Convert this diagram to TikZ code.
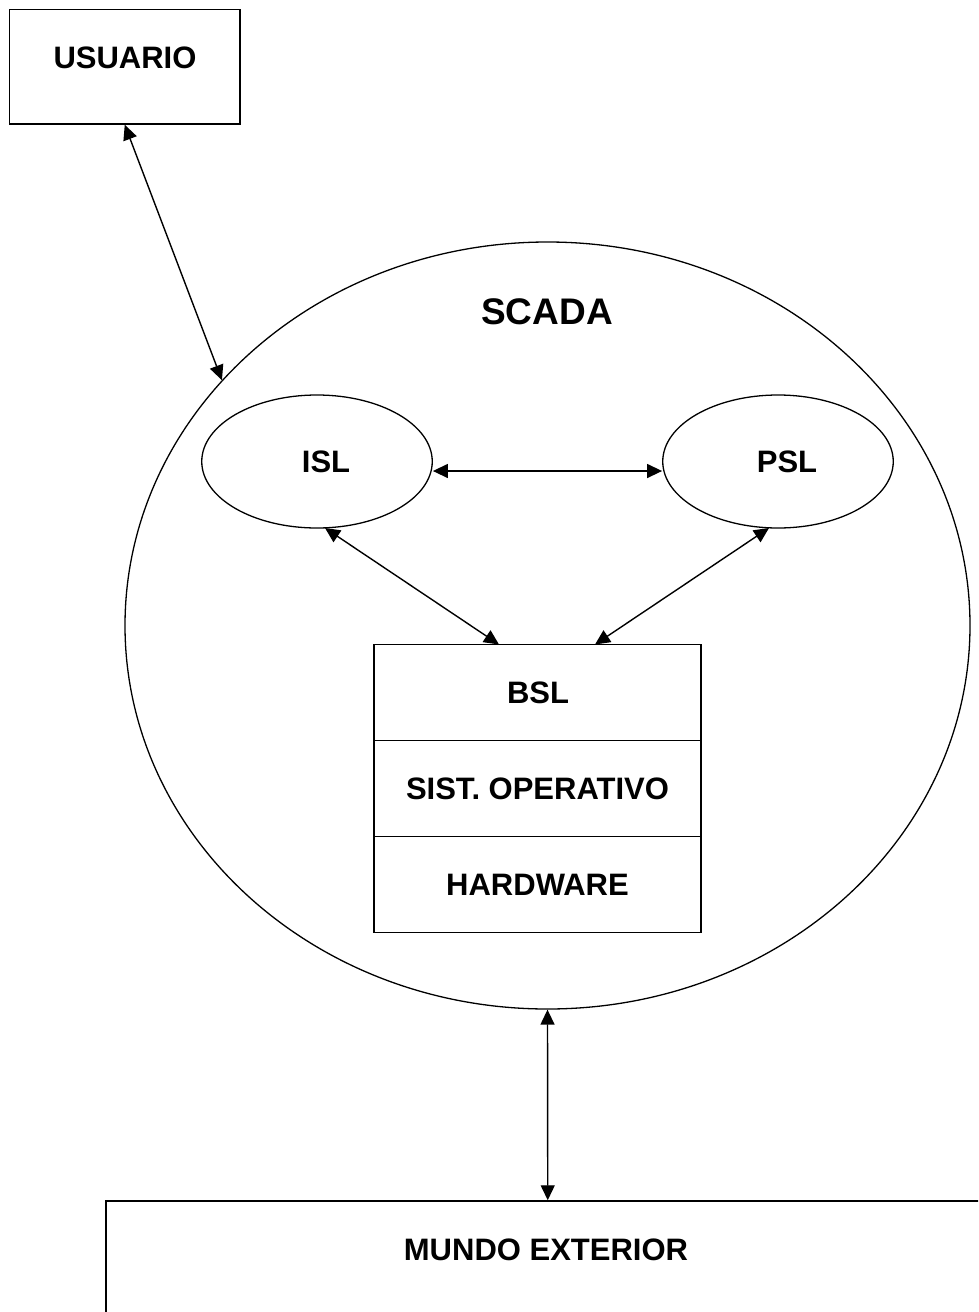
\documentclass[tikz,border=0pt]{standalone}
\usepackage{fontspec}
\setmainfont{Liberation Sans}
\usetikzlibrary{arrows.meta,shapes.geometric,calc}

\tikzset{
  box/.style={draw, line width=1.5pt, rectangle, inner sep=0pt},
  oval/.style={draw, line width=1.3pt, ellipse, inner sep=0pt},
  lbl/.style={font=\fontsize{31}{31}\selectfont\bfseries, inner sep=0pt},
  link/.style={line width=1.4pt, {Triangle[length=15pt,width=14pt]}-{Triangle[length=15pt,width=14pt]}}
}

\begin{document}
\begin{tikzpicture}[x=1pt,y=-1pt]
  \useasboundingbox (0,0) rectangle (978,1312);
  \clip (0,0) rectangle (978,1312);
  \fill[white] (0,0) rectangle (978,1312);

  % user box
  \node[box, minimum width=230.5pt, minimum height=114.5pt] (usuario) at (124.75,66.75) {};
  \node[lbl] (usuariotxt) at (125,57.5) {USUARIO};

  % SCADA system
  \node[oval, minimum width=845pt, minimum height=767pt] (scada) at (547.5,625.5) {};
  \node[lbl, font=\fontsize{37}{37}\selectfont\bfseries] (scadatxt) at (547,312) {SCADA};

  % interface and process layers
  \node[oval, minimum width=230.5pt, minimum height=133pt] (isl) at (317,461.5) {};
  \node[lbl] (isltxt) at (326,462) {ISL};
  \node[oval, minimum width=230.5pt, minimum height=133pt] (psl) at (778,461.5) {};
  \node[lbl] (psltxt) at (787,462) {PSL};

  % base layer stack
  \node[box, minimum width=327pt, minimum height=96pt] (bsl) at (537.5,692.5) {};
  \node[box, minimum width=327pt, minimum height=96pt] (so) at (537.5,788.5) {};
  \node[box, minimum width=327pt, minimum height=96pt] (hw) at (537.5,884.5) {};
  \node[lbl] (bsltxt) at (538,693) {BSL};
  \node[lbl] (sotxt) at (537.5,789) {SIST. OPERATIVO};
  \node[lbl] (hwtxt) at (537.5,885) {HARDWARE};

  % outside world
  \node[box, minimum width=884pt, minimum height=140pt] (mundo) at (547.75,1271) {};
  \node[lbl] (mundotxt) at (546,1250) {MUNDO EXTERIOR};

  % connectors
  \draw[link] (usuario.south) -- (scada.143.2);
  \draw[link] ($(isl.east)+(0,9.5)$) -- ($(psl.west)+(0,9.5)$);
  \coordinate (bslL) at (499,644.5);
  \coordinate (bslR) at (595,644.5);
  \coordinate (islB) at (325,528);
  \coordinate (pslB) at (769,528);
  \draw[link] (islB) -- (bslL);
  \draw[link] (pslB) -- (bslR);
  \draw[link] (scada.south) -- (mundo.north);
\end{tikzpicture}
\end{document}
